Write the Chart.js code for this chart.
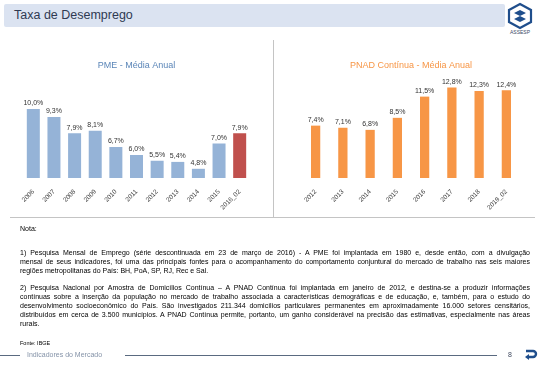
<!DOCTYPE html>
<html>
<head>
<meta charset="utf-8">
<script src="https://cdn.jsdelivr.net/npm/chart.js@4"></script>
<style>
  html, body { margin: 0; padding: 0; background: #fff; }
  body { width: 544px; height: 369px; position: relative; overflow: hidden;
         font-family: "Liberation Sans Narrow", "Liberation Sans", Arial, sans-serif; }
  .abs { position: absolute; }
  #titlebar { left: 4px; top: 4px; width: 501px; height: 23px; background: #dbe3f1; border-radius: 2px; }
  #titlebar span { position: absolute; left: 10px; top: 4px; font-size: 12.5px; color: #2f3a52; }
  #vsep { left: 273px; top: 40px; width: 1px; height: 178px; background: #c4c4c4; }
  #hsep { left: 10px; top: 217px; width: 525px; height: 1px; background: #c4c4c4; }
  .note { left: 20px; width: 510px; font-size: 7px; color: #000; line-height: 9px; }
  .note div { text-align: justify; text-align-last: justify; }
  .note div.last { text-align-last: left; }
  #footer-l1 { left: 0; top: 355px; width: 20px; height: 1px; background: #5a6a80; }
  #footer-l2 { left: 125px; top: 355px; width: 372px; height: 1px; background: #5a6a80; }
  #footer-t { left: 27px; top: 351px; font-size: 7px; color: #8593a8; }
  #page { left: 508px; top: 351px; font-size: 7px; color: #404a60; }
</style>
</head>
<body>
<div id="titlebar" class="abs"><span>Taxa de Desemprego</span></div>
<svg class="abs" style="left:505px;top:2px" width="30" height="34" viewBox="0 0 30 34">
  <polygon points="15,2 26,8 26,20 15,26 4,20 4,8" fill="none" stroke="#1f4e8c" stroke-width="2.2"/>
  <path d="M9,11 L15,8 L21,11 L15,14 Z M9,17 L15,14 L21,17 L15,20 Z" fill="#1f4e8c"/>
  <text x="15" y="32" font-size="5" text-anchor="middle" fill="#3a4a66" font-family="Liberation Sans, sans-serif">ASSESP</text>
</svg>

<div class="abs" style="left:0;top:55px"><canvas id="pme" width="270" height="160"></canvas></div>
<div class="abs" style="left:273px;top:55px"><canvas id="pnad" width="271" height="160"></canvas></div>
<div id="vsep" class="abs"></div>
<div id="hsep" class="abs"></div>

<div class="abs note" style="top:224px"><div class="last">Nota:</div></div>
<div class="abs note" style="top:248px">
  <div>1) Pesquisa Mensal de Emprego (série descontinuada em 23 de março de 2016) - A PME foi implantada em 1980 e, desde então, com a divulgação</div>
  <div>mensal de seus indicadores, foi uma das principais fontes para o acompanhamento do comportamento conjuntural do mercado de trabalho nas seis maiores</div>
  <div class="last">regiões metropolitanas do País: BH, PoA, SP, RJ, Rec e Sal.</div>
</div>
<div class="abs note" style="top:283px">
  <div>2) Pesquisa Nacional por Amostra de Domicílios Contínua – A PNAD Contínua foi implantada em janeiro de 2012, e destina-se a produzir informações</div>
  <div>contínuas sobre a inserção da população no mercado de trabalho associada a características demográficas e de educação, e, também, para o estudo do</div>
  <div>desenvolvimento socioeconômico do País. São investigados 211.344 domicílios particulares permanentes em aproximadamente 16.000 setores censitários,</div>
  <div>distribuídos em cerca de 3.500 municípios. A PNAD Contínua permite, portanto, um ganho considerável na precisão das estimativas, especialmente nas áreas</div>
  <div class="last">rurais.</div>
</div>
<div class="abs note" style="top:339px;font-size:5.5px"><div class="last">Fonte: IBGE</div></div>

<div id="footer-l1" class="abs"></div>
<div id="footer-t" class="abs">Indicadores do Mercado</div>
<div id="footer-l2" class="abs"></div>
<div id="page" class="abs">8</div>
<svg class="abs" style="left:524px;top:348px" width="14" height="12" viewBox="0 0 14 12">
  <path d="M2,3 H9 A3,3 0 0 1 9,9 H4" fill="none" stroke="#1f4e8c" stroke-width="2.4"/>
  <path d="M1,9 L5,6 L5,12 Z" fill="#1f4e8c"/>
</svg>

<script>
// PME - média anual
const pmeYears = ['2006', '2007', '2008', '2009', '2010', '2011', '2012', '2013', '2014', '2015', '2016_02'];
const pmeRates = [10.0, 9.3, 7.9, 8.1, 6.7, 6.0, 5.5, 5.4, 4.8, 7.0, 7.9];

// PNAD Contínua - média anual
const pnadYears = ['2012', '2013', '2014', '2015', '2016', '2017', '2018', '2019_02'];
const pnadRates = [7.4, 7.1, 6.8, 8.5, 11.5, 12.8, 12.3, 12.4];

const FONT = '"Liberation Sans Narrow", "Liberation Sans", Arial, sans-serif';

// rótulos de valor em cima das barras
const valueLabels = {
  id: 'valueLabels',
  afterDatasetsDraw(chart) {
    const ctx = chart.ctx;
    ctx.save();
    ctx.font = '7px ' + FONT;
    ctx.fillStyle = '#333';
    ctx.textAlign = 'center';
    ctx.textBaseline = 'bottom';
    const vals = chart.data.datasets[0].data;
    chart.getDatasetMeta(0).data.forEach((bar, i) => {
      ctx.fillText(vals[i].toFixed(1).replace('.', ',') + '%', bar.x, bar.y - 2);
    });
    ctx.restore();
  }
};

function barChart(id, labels, data, colors, title, titleColor, barPct, yMin, yMax, pad) {
  return new Chart(document.getElementById(id), {
    type: 'bar',
    data: {
      labels: labels,
      datasets: [{ data: data, backgroundColor: colors, barPercentage: barPct, categoryPercentage: 1 }]
    },
    options: {
      responsive: false,
      animation: false,
      layout: { padding: pad },
      plugins: {
        legend: { display: false },
        tooltip: { enabled: false },
        title: {
          display: true,
          text: title,
          color: titleColor,
          font: { family: FONT, size: 9, weight: 'normal' },
          padding: { top: 5, bottom: 15.2 }
        }
      },
      scales: {
        x: {
          grid: { display: false },
          border: { display: false },
          ticks: { color: '#404040', font: { family: FONT, size: 6.5 }, minRotation: 45, maxRotation: 45, padding: 2 },
          afterFit: s => { s.height = 37; }
        },
        y: { display: false, min: yMin, max: yMax }
      }
    },
    plugins: [valueLabels]
  });
}

const pmeColors = pmeYears.map((y, i) => i === pmeYears.length - 1 ? '#c0504d' : '#95b3d7');
barChart('pme', pmeYears, pmeRates, pmeColors, 'PME - Média Anual', '#5b86b8', 0.63, 4, 12,
  { left: 23, right: 20, top: 0, bottom: 0 });
barChart('pnad', pnadYears, pnadRates, '#f79646', 'PNAD Contínua - Média Anual', '#f79646', 0.34, 0, 13,
  { left: 29, right: 24, top: 0, bottom: 0 });
</script>
</body>
</html>
